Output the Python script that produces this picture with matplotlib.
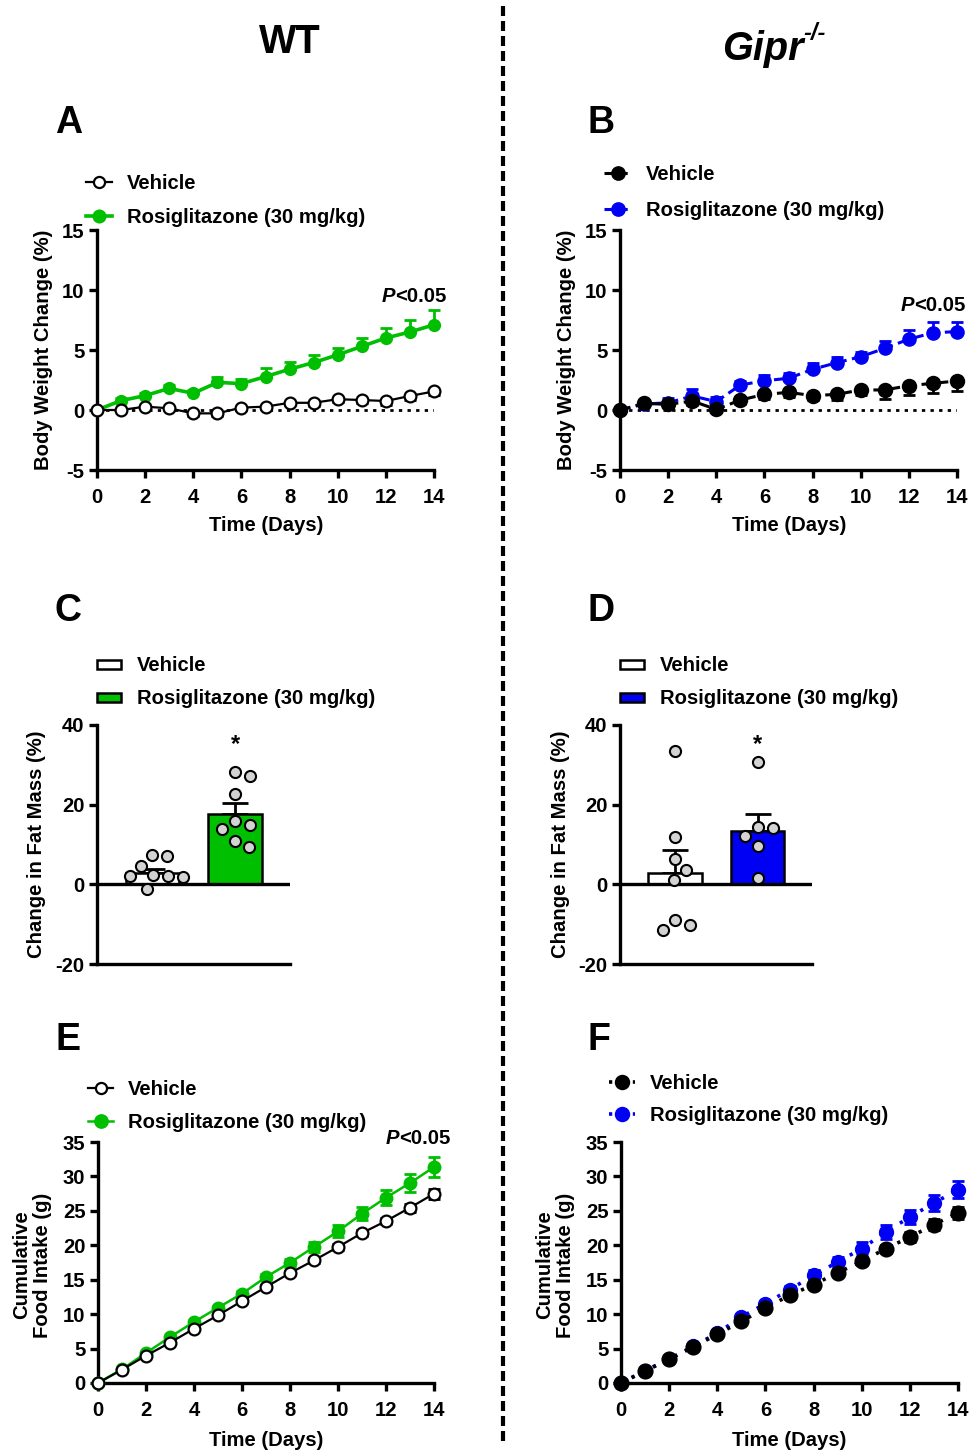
import numpy as np
import matplotlib.pyplot as plt
from matplotlib.lines import Line2D
from matplotlib.patches import Rectangle

plt.rcParams['font.family'] = ['Liberation Sans', 'DejaVu Sans']
plt.rcParams['font.weight'] = 'bold'
plt.rcParams['axes.unicode_minus'] = False

# ---- data ----
days = np.arange(15)

# A: WT body weight change (%)
a_veh = [0, 0, 0.28, 0.14, -0.28, -0.28, 0.2, 0.28, 0.6, 0.6, 0.9, 0.83, 0.75, 1.17, 1.55]
a_veh_err = [0, 0.1, 0.15, 0.15, 0.2, 0.2, 0.2, 0.2, 0.2, 0.25, 0.25, 0.25, 0.3, 0.3, 0.3]
a_ros = [0, 0.78, 1.2, 1.8, 1.39, 2.3, 2.2, 2.78, 3.4, 3.95, 4.6, 5.3, 6.0, 6.5, 7.1]
a_ros_err = [0, 0.2, 0.25, 0.3, 0.3, 0.45, 0.4, 0.75, 0.6, 0.65, 0.6, 0.7, 0.86, 1.0, 1.2]

# B: Gipr-/- body weight change (%)
b_veh = [0, 0.55, 0.47, 0.75, 0.05, 0.83, 1.3, 1.47, 1.2, 1.3, 1.67, 1.67, 2.03, 2.22, 2.42]
b_veh_err = [0, 0.2, 0.25, 0.3, 0.2, 0.3, 0.35, 0.4, 0.4, 0.45, 0.45, 0.75, 0.8, 0.8, 0.8]
b_ros = [0, 0.5, 0.6, 1.17, 0.7, 2.08, 2.44, 2.64, 3.39, 3.94, 4.44, 5.14, 5.9, 6.44, 6.53]
b_ros_err = [0, 0.2, 0.4, 0.55, 0.35, 0.35, 0.45, 0.47, 0.55, 0.5, 0.42, 0.6, 0.75, 0.92, 0.83]

# C / D: change in fat mass (%)
c_veh_pts = [7.0, 7.4, 4.7, 2.25, 2.1, 2.1, 1.8, -1.25]
c_ros_pts = [28.3, 27.1, 22.7, 15.8, 13.8, 14.9, 11.0, 9.3]
c_means = [2.8, 17.7]
c_sem = [1.1, 2.7]
d_veh_pts = [33.5, 12, 6.3, 3.6, 1.2, -9, -10.25, -11.5]
d_ros_pts = [30.8, 14.5, 14.2, 12.25, 9.5, 1.7]
d_means = [2.9, 13.5]
d_sem = [5.6, 4.2]

# E: WT cumulative food intake (g)
e_veh = [0, 1.94, 3.97, 5.86, 7.89, 9.83, 11.9, 13.94, 15.97, 17.81, 19.75, 21.78, 23.52, 25.46, 27.49]
e_veh_err = [0, 0.1, 0.15, 0.2, 0.2, 0.25, 0.25, 0.3, 0.3, 0.35, 0.4, 0.45, 0.5, 0.6, 0.73]
e_ros = [0, 2.0, 4.36, 6.68, 8.86, 10.94, 12.97, 15.39, 17.47, 19.75, 22.02, 24.59, 26.91, 29.04, 31.37]
e_ros_err = [0, 0.1, 0.15, 0.2, 0.25, 0.3, 0.35, 0.5, 0.58, 0.73, 0.87, 0.97, 1.06, 1.26, 1.45]

# F: Gipr-/- cumulative food intake (g)
f_veh = [0, 1.74, 3.44, 5.23, 7.07, 8.95, 10.89, 12.73, 14.28, 16.02, 17.67, 19.51, 21.2, 22.99, 24.73]
f_veh_err = [0, 0.1, 0.15, 0.2, 0.25, 0.3, 0.35, 0.4, 0.45, 0.5, 0.55, 0.6, 0.7, 0.8, 0.85]
f_ros = [0, 1.8, 3.5, 5.32, 7.26, 9.58, 11.52, 13.55, 15.63, 17.57, 19.51, 21.93, 24.1, 26.14, 28.07]
f_ros_err = [0, 0.1, 0.15, 0.2, 0.25, 0.3, 0.4, 0.6, 0.75, 0.73, 0.9, 0.97, 1.06, 1.2, 1.26]

GREEN = '#00BE00'
BLUE = '#0000F5'
GREY = '#D3D3D3'
LW = 2.4
FS = 14.6

W, H = 969, 1452
fig = plt.figure(figsize=(W / 100, H / 100), dpi=100)


def fx(x):
    return x / W


def fy(y):
    return 1 - y / H


def box(x0, y0, x1, y1):
    return [x0 / W, 1 - y1 / H, (x1 - x0) / W, (y1 - y0) / H]


def prism(ax):
    for s in ['top', 'right']:
        ax.spines[s].set_visible(False)
    for s in ['left', 'bottom']:
        ax.spines[s].set_linewidth(LW)
    ax.tick_params(width=LW, length=6, labelsize=FS)
    ax.tick_params(axis='x', pad=7)
    ax.tick_params(axis='y', pad=3)


def ptext(x, y, txt, **kw):
    fig.text(fx(x), fy(y), txt, **kw)


def line_panel(ax, veh, veh_err, ros, ros_err, rcol, ylim, yticks,
               veh_open, ls, err_mode, veh_ms, ros_ms):
    prism(ax)
    ax.set_xlim(0, 14)
    ax.set_ylim(*ylim)
    ax.set_xticks(range(0, 15, 2))
    ax.set_yticks(yticks)
    zeros = np.zeros(len(days))
    if err_mode == 'one':
        r_err = [zeros, ros_err]
        v_err = [veh_err, zeros]
    else:
        r_err = [ros_err, ros_err]
        v_err = [veh_err, veh_err]
    ax.errorbar(days, ros, yerr=r_err, fmt='none', ecolor=rcol, elinewidth=2,
                capsize=4.5, capthick=2, clip_on=False, zorder=3)
    ax.plot(days, ros, color=rcol, lw=ls[1], dashes=ls[0], marker='o', ms=ros_ms,
            mec=rcol, mfc=rcol, clip_on=False, zorder=4)
    ax.errorbar(days, veh, yerr=v_err, fmt='none', ecolor='k', elinewidth=2,
                capsize=4.5, capthick=2, clip_on=False, zorder=5)
    ax.plot(days, veh, color='k', lw=ls[2], dashes=ls[0], marker='o', ms=veh_ms,
            mec='k', mfc='white' if veh_open else 'k', mew=1.6,
            clip_on=False, zorder=6)


# A
axA = fig.add_axes(box(97, 230, 434, 470))
line_panel(axA, a_veh, a_veh_err, a_ros, a_ros_err, GREEN, (-5, 15),
           [-5, 0, 5, 10, 15], True, ((None, None), 2.6, 1.6), 'one', 8.5, 8.5)
axA.plot([0, 14], [0, 0], color='k', lw=2, dashes=(1.2, 1.9), zorder=2)
# B
axB = fig.add_axes(box(620, 230, 957, 470))
line_panel(axB, b_veh, b_veh_err, b_ros, b_ros_err, BLUE, (-5, 15),
           [-5, 0, 5, 10, 15], False, ((3.5, 1.8), 2.2, 2.2), 'one', 9.5, 9.5)
axB.plot([0, 14], [0, 0], color='k', lw=2, dashes=(1.2, 1.9), zorder=2)
# E
axE = fig.add_axes(box(98, 1142, 434, 1383))
line_panel(axE, e_veh, e_veh_err, e_ros, e_ros_err, GREEN, (0, 35),
           range(0, 36, 5), True, ((None, None), 1.8, 1.6), 'both', 8.5, 9)
# F
axF = fig.add_axes(box(621, 1142, 958, 1383))
line_panel(axF, f_veh, f_veh_err, f_ros, f_ros_err, BLUE, (0, 35),
           range(0, 36, 5), False, ((0.9, 2.4), 2.6, 2.6), 'both', 10, 10)


def swarm(vals, ypx, xpx, diam):
    vals = np.asarray(vals, float)
    order = np.argsort(vals)[::-1]
    placed = []
    offs = np.zeros(len(vals))
    cands = [0]
    for k in range(1, 80):
        cands += [k, -k]
    for i in order:
        y = vals[i] * ypx
        for dx in cands:
            if all((dx - px) ** 2 + (y - py) ** 2 >= diam ** 2 for px, py in placed):
                break
        placed.append((dx, y))
        offs[i] = dx / xpx
    return offs


def bar_panel(ax, x0px, x1px, vpts, rpts, means, sem, col):
    prism(ax)
    ax.set_xlim(0.33, 2.66)
    ax.set_ylim(-20, 40)
    ax.set_yticks([-20, 0, 20, 40])
    ax.set_xticks([])
    ax.axhline(0, color='k', lw=LW, zorder=3)
    ax.bar([1, 2], means, width=0.65, color=['white', col], edgecolor='k',
           linewidth=1.8, zorder=2)
    ax.errorbar([1, 2], means, yerr=[[0, 0], sem], fmt='none', ecolor='k',
                elinewidth=2, capsize=9.5, capthick=2, zorder=1)
    ypx = 239 / 60.0
    xpx = (x1px - x0px) / (2.66 - 0.33)
    for xc, pts in [(1, vpts), (2, rpts)]:
        off = swarm(pts, ypx, xpx, 15)
        ax.scatter(xc + off, pts, s=64, fc=GREY, ec='k', lw=1.5, zorder=5,
                   clip_on=False)
    ax.text(2, 35, '*', ha='center', va='center', fontsize=17)


axC = fig.add_axes(box(97, 725, 290, 964))
bar_panel(axC, 97, 290, c_veh_pts, c_ros_pts, c_means, c_sem, GREEN)
axD = fig.add_axes(box(620, 725, 812, 964))
bar_panel(axD, 620, 812, d_veh_pts, d_ros_pts, d_means, d_sem, BLUE)

# ---- axis labels ----
for x, y in [(44, 350), (567, 350)]:
    ptext(x, y, 'Body Weight Change (%)', rotation=90, ha='center', va='center',
          fontsize=FS)
for x, y in [(37, 844), (560, 844)]:
    ptext(x, y, 'Change in Fat Mass (%)', rotation=90, ha='center', va='center',
          fontsize=FS)
for x, y in [(32, 1265), (555, 1265)]:
    ptext(x, y, 'Cumulative\nFood Intake (g)', rotation=90, ha='center',
          va='center', fontsize=FS, multialignment='center', linespacing=1.15)
for x, y in [(266, 526), (789, 526), (266, 1441), (789, 1441)]:
    ptext(x, y, 'Time (Days)', ha='center', va='center', fontsize=FS)

# ---- P values ----
for x, y in [(395, 302), (914, 311), (399, 1144)]:
    ptext(x, y, 'P', ha='right', va='baseline', fontsize=FS, style='italic')
    ptext(x, y, '<0.05', ha='left', va='baseline', fontsize=FS)

# ---- titles & letters ----
ptext(290, 53, 'WT', ha='center', va='baseline', fontsize=28.5)
ptext(722, 60, 'Gipr', ha='left', va='baseline', fontsize=28.5, style='italic')
ptext(803, 40, '-/-', ha='left', va='baseline', fontsize=17, style='italic')
for x, y, t in [(55, 133, 'A'), (588, 133, 'B'), (55, 621, 'C'), (588, 621, 'D'),
                (55, 1050, 'E'), (588, 1050, 'F')]:
    ptext(x, y, t, ha='left', va='baseline', fontsize=27)

# ---- divider ----
fig.add_artist(Line2D([fx(503), fx(503)], [fy(6), fy(1442)], color='k', lw=3,
                      dashes=(2.4, 1.2)))


# ---- legends ----
def leg_line(x0, x1, y, col, mfc, dashes, lw, ms, label, tx):
    xm = (x0 + x1) / 2
    fig.add_artist(Line2D([fx(x0), fx(xm), fx(x1)], [fy(y)] * 3, color=col,
                          lw=lw, dashes=dashes, marker='o', markevery=[1], ms=ms,
                          mfc=mfc, mec=col, mew=1.6))
    ptext(tx, y + 7.2, label, ha='left', va='baseline', fontsize=FS)


def leg_rect(x0, y, col, label, tx):
    fig.add_artist(Rectangle((fx(x0), fy(y + 4.5)), 24 / W, 9 / H, fc=col, ec='k',
                             lw=1.8, transform=fig.transFigure))
    ptext(tx, y + 7.2, label, ha='left', va='baseline', fontsize=FS)


ROSI = 'Rosiglitazone (30 mg/kg)'
leg_line(86, 112, 182, 'k', 'white', (None, None), 1.6, 8, 'Vehicle', 127)
leg_line(86, 112, 216, GREEN, GREEN, (None, None), 2.6, 8.5, ROSI, 127)
leg_line(604, 632, 173, 'k', 'k', (3, 1.6), 2.2, 9, 'Vehicle', 646)
leg_line(604, 632, 209, BLUE, BLUE, (3, 1.6), 2.2, 9, ROSI, 646)
leg_rect(97, 664, 'white', 'Vehicle', 137)
leg_rect(97, 697, GREEN, ROSI, 137)
leg_rect(620, 664, 'white', 'Vehicle', 660)
leg_rect(620, 697, BLUE, ROSI, 660)
leg_line(88, 113, 1088, 'k', 'white', (None, None), 1.6, 8, 'Vehicle', 128)
leg_line(88, 113, 1121, GREEN, GREEN, (None, None), 1.8, 9, ROSI, 128)
leg_line(609, 635, 1082, 'k', 'k', (0.9, 2.4), 2.6, 9.5, 'Vehicle', 650)
leg_line(609, 635, 1114, BLUE, BLUE, (0.9, 2.4), 2.6, 9.5, ROSI, 650)

fig.savefig('out.png', dpi=100)
